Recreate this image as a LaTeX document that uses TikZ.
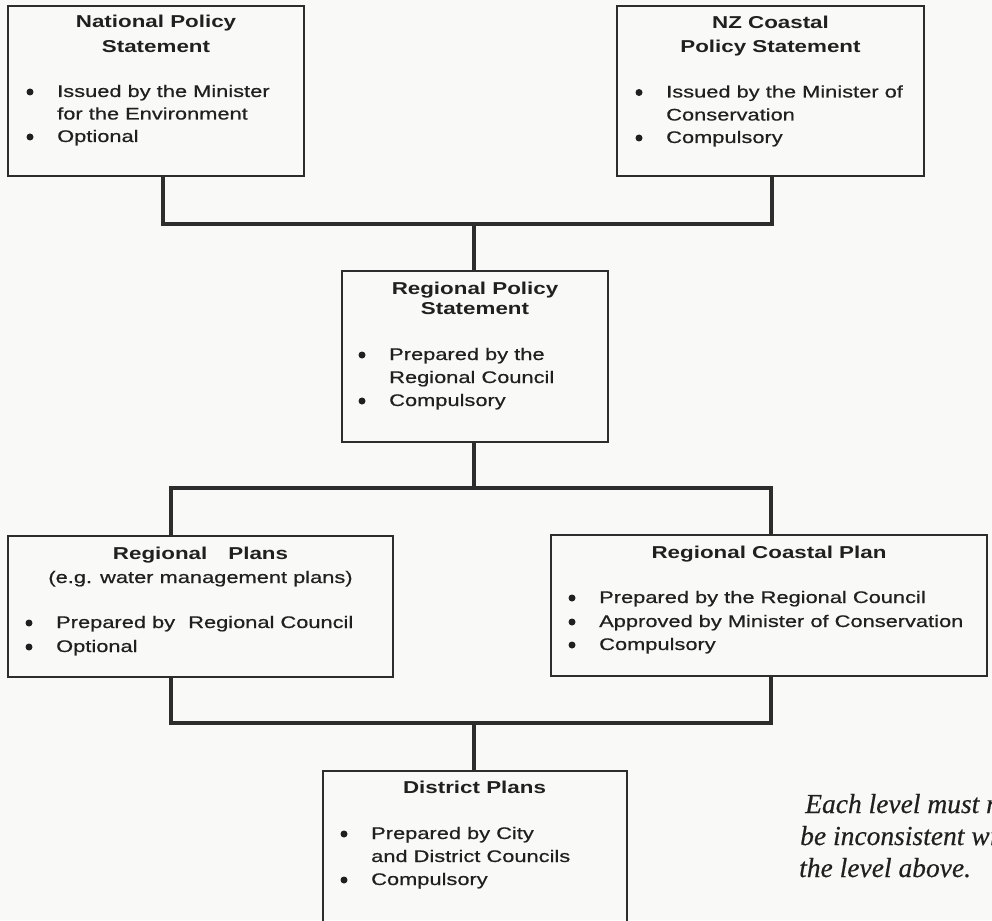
\documentclass[tikz,border=0pt]{standalone}
\usepackage{fontspec}
\setmainfont{Liberation Sans}[FakeStretch=1.3, UprightFeatures={FakeBold=0.6}]
\newfontfamily\notefont{Liberation Serif}[ItalicFeatures={FakeBold=0.4}]
\usetikzlibrary{calc}

\definecolor{paper}{RGB}{249,249,247}
\definecolor{ink}{RGB}{32,32,32}
\definecolor{rule}{RGB}{45,45,45}

\tikzset{
  box/.style={draw=rule, line width=1.3pt, anchor=north west, inner sep=0pt, outer sep=0pt},
  conn/.style={draw=rule, line width=3.3pt, line join=miter, line cap=butt},
  head/.style={text=ink, font=\fontsize{17.2}{20}\selectfont\bfseries, inner sep=0pt, anchor=base},
  body/.style={text=ink, font=\fontsize{16.8}{22}\selectfont, inner sep=0pt, anchor=base west},
  note/.style={text=ink, font=\notefont\itshape\fontsize{27.5}{32}\selectfont, inner sep=0pt, anchor=base west},
}

% bullet dot placed to the left of a body line starting at (#1,#2)
\newcommand\bdot[2]{\fill[ink] ($(#1,#2)+(-27,-5)$) circle (3.5pt);}

\begin{document}
\begin{tikzpicture}[x=1pt,y=-1pt]
  \useasboundingbox (0,0) rectangle (992,920);
  \fill[paper] (0,0) rectangle (992,920);
  \clip (0,0) rectangle (992,920);

  % ---- boxes ----
  \node[box, minimum width=296pt, minimum height=170pt] (nps) at (8,6) {};
  \node[box, minimum width=307pt, minimum height=170pt] (nzc) at (617,6) {};
  \node[box, minimum width=266pt, minimum height=171pt] (rps) at (342,271) {};
  \node[box, minimum width=385pt, minimum height=141pt] (rp)  at (8,536) {};
  \node[box, minimum width=436pt, minimum height=141pt] (rcp) at (551,535) {};
  \node[box, minimum width=304pt, minimum height=170pt] (dp)  at (323,771) {};

  % ---- National Policy Statement ----
  \node[head] (nps-h1) at (156,28) {National Policy};
  \node[head] (nps-h2) at (156,53) {Statement};
  \bdot{57}{97}
  \node[body] (nps-l1) at (57,97) {Issued by the Minister};
  \node[body] (nps-l2) at (57,119.5) {for the Environment};
  \bdot{57}{142}
  \node[body] (nps-l3) at (57,142) {Optional};

  % ---- NZ Coastal Policy Statement ----
  \node[head] (nzc-h1) at (770.5,29) {NZ Coastal};
  \node[head] (nzc-h2) at (770.5,53) {Policy Statement};
  \bdot{666}{97.5}
  \node[body] (nzc-l1) at (666,97.5) {Issued by the Minister of};
  \node[body] (nzc-l2) at (666,120.5) {Conservation};
  \bdot{666}{143}
  \node[body] (nzc-l3) at (666,143) {Compulsory};

  % ---- Regional Policy Statement ----
  \node[head] (rps-h1) at (475,294) {Regional Policy};
  \node[head] (rps-h2) at (475,314) {Statement};
  \bdot{389}{360}
  \node[body] (rps-l1) at (389,360) {Prepared by the};
  \node[body] (rps-l2) at (389,383) {Regional Council};
  \bdot{389}{406}
  \node[body] (rps-l3) at (389,406) {Compulsory};

  % ---- Regional Plans ----
  \node[head] (rp-h1) at (200.5,559) {Regional\hspace{21pt}Plans};
  \node[body, anchor=base] (rp-h2) at (200.5,583) {(e.g. water management plans)};
  \bdot{56}{628}
  \node[body] (rp-l1) at (56,628) {Prepared by\hspace{7pt} Regional Council};
  \bdot{56}{652}
  \node[body] (rp-l2) at (56,652) {Optional};

  % ---- Regional Coastal Plan ----
  \node[head] (rcp-h1) at (769,558) {Regional Coastal Plan};
  \bdot{599}{603}
  \node[body] (rcp-l1) at (599,603) {Prepared by the Regional Council};
  \bdot{599}{627}
  \node[body] (rcp-l2) at (599,627) {Approved by Minister of Conservation};
  \bdot{599}{650}
  \node[body] (rcp-l3) at (599,650) {Compulsory};

  % ---- District Plans ----
  \node[head] (dp-h1) at (474.5,793) {District Plans};
  \bdot{371}{839}
  \node[body] (dp-l1) at (371,839) {Prepared by City};
  \node[body] (dp-l2) at (371,862) {and District Councils};
  \bdot{371}{885}
  \node[body] (dp-l3) at (371,885) {Compulsory};

  % ---- side note (runs past the right edge of the page) ----
  \node[note] (note1) at (805,813) {Each level must not};
  \node[note] (note2) at (800,845) {be inconsistent with};
  \node[note] (note3) at (799,877) {the level above.};

  % ---- connector junctions ----
  \coordinate (tA) at (163,224);
  \coordinate (tB) at (772,224);
  \coordinate (tC) at (474,224);
  \coordinate (mA) at (171,488);
  \coordinate (mB) at (771,488);
  \coordinate (mC) at (474,488);
  \coordinate (bA) at (171,723);
  \coordinate (bB) at (771,723);
  \coordinate (bC) at (474,723);

  % ---- connectors ----
  \draw[conn] (nps.south -| tA) -- (tA) -- (tB) -- (nzc.south -| tB);
  \draw[conn] (tC) -- (rps.north -| tC);
  \draw[conn] (rps.south -| mC) -- (mC);
  \draw[conn] (rp.north -| mA) -- (mA) -- (mB) -- (rcp.north -| mB);
  \draw[conn] (rp.south -| bA) -- (bA) -- (bB) -- (rcp.south -| bB);
  \draw[conn] (bC) -- (dp.north -| bC);
\end{tikzpicture}
\end{document}
